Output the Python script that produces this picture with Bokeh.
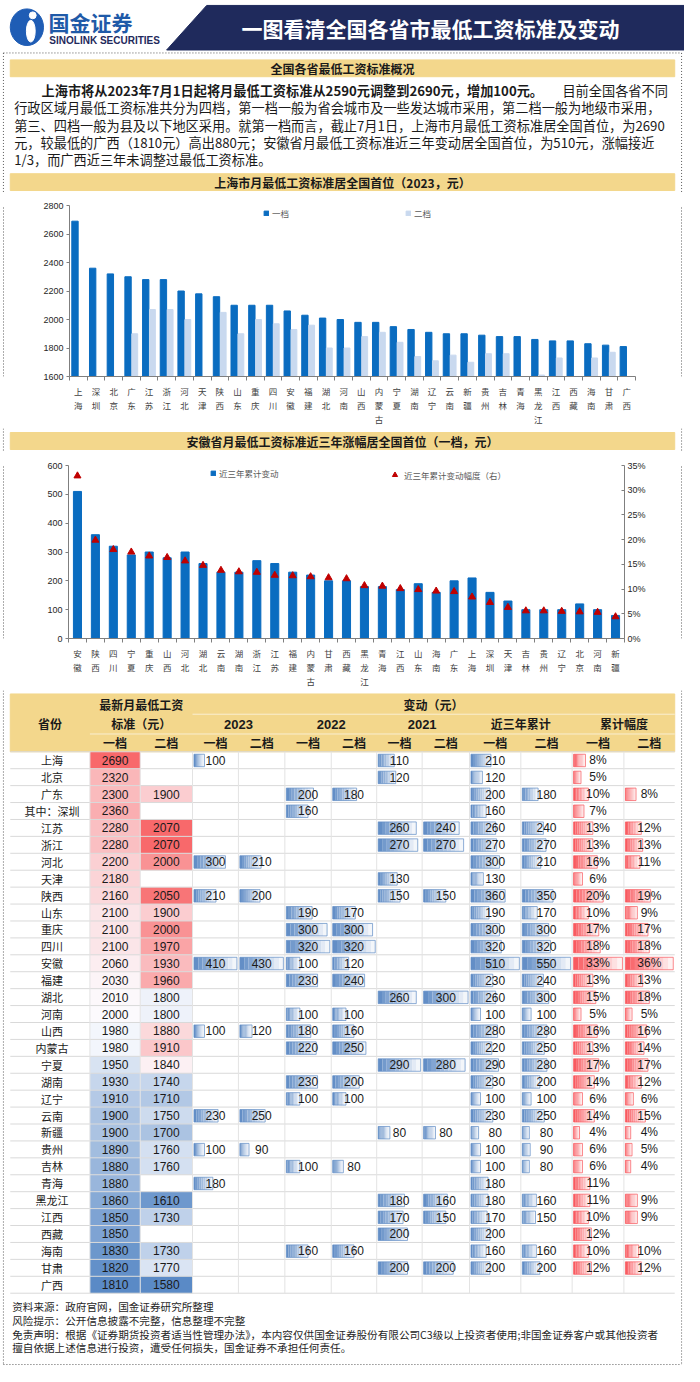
import statistics
from bokeh.plotting import figure
from bokeh.layouts import column, row
from bokeh.models import (Range1d, LinearAxis, FixedTicker, Legend, LegendItem,
                          NumeralTickFormatter, ColumnDataSource)
from bokeh.transform import dodge
from bokeh.core.properties import value
from bokeh.embed import file_html
from bokeh.resources import INLINE

CJK = "Noto Sans CJK SC"
NUM = "Liberation Sans"
NAVY = "#1f2a5c"
YELLOW = "#f3d78c"
DOT = "#5a5a5a"
DARK = "#0a6cc0"
LIGHT = "#c9d9ef"
TRI = "#c00000"

# ================= data =================
TITLE = "一图看清全国各省市最低工资标准及变动"
SEC1 = "全国各省最低工资标准概况"
SEC2 = "上海市月最低工资标准居全国首位（2023，元）"
SEC3 = "安徽省月最低工资标准近三年涨幅居全国首位（一档，元）"
P1_bold = "上海市将从2023年7月1日起将月最低工资标准从2590元调整到2690元，增加100元。"
P1_rest = "目前全国各省不同"
P_lines = ["行政区域月最低工资标准共分为四档，第一档一般为省会城市及一些发达城市采用，第二档一般为地级市采用，",
           "第三、四档一般为县及以下地区采用。就第一档而言，截止7月1日，上海市月最低工资标准居全国首位，为2690",
           "元，较最低的广西（1810元）高出880元；安徽省月最低工资标准近三年变动居全国首位，为510元，涨幅接近",
           "1/3，而广西近三年未调整过最低工资标准。"]
FOOT = ["资料来源：政府官网，国金证券研究所整理",
        "风险提示：公开信息披露不完整，信息整理不完整",
        "免责声明：根据《证券期货投资者适当性管理办法》，本内容仅供国金证券股份有限公司C3级以上投资者使用;非国金证券客户或其他投资者",
        "擅自依据上述信息进行投资，遭受任何损失，国金证券不承担任何责任。"]

# chart 1
c1_cats = ["上海", "深圳", "北京", "广东", "江苏", "浙江", "河北", "天津", "陕西", "山东", "重庆", "四川",
           "安徽", "福建", "湖北", "河南", "山西", "内蒙古", "宁夏", "湖南", "辽宁", "云南", "新疆", "贵州",
           "吉林", "青海", "黑龙江", "江西", "西藏", "海南", "甘肃", "广西"]
c1_t1 = [2690, 2360, 2320, 2300, 2280, 2280, 2200, 2180, 2160, 2100, 2100, 2100, 2060, 2030, 2010, 2000,
         1980, 1980, 1950, 1930, 1910, 1900, 1900, 1890, 1880, 1880, 1860, 1850, 1850, 1830, 1820, 1810]
c1_t2 = [None, None, None, 1900, 2070, 2070, 2000, None, 2050, 1900, 2000, 1970, 1930, 1960, 1800, 1800,
         1880, 1910, 1840, 1740, 1710, 1750, 1700, 1760, 1760, None, 1610, 1730, None, 1730, 1770, 1580]
c1_yticks = [1600, 1800, 2000, 2200, 2400, 2600, 2800]

# chart 2
c2_cats = ["安徽", "陕西", "四川", "宁夏", "重庆", "山西", "河北", "湖北", "云南", "湖南", "浙江", "江苏",
           "福建", "内蒙古", "甘肃", "西藏", "黑龙江", "青海", "江西", "山东", "海南", "广东", "上海", "深圳",
           "天津", "吉林", "贵州", "辽宁", "北京", "河南", "新疆"]
c2_val = [510, 360, 320, 290, 300, 280, 300, 260, 230, 230, 270, 260, 230, 220, 200, 200, 180, 180, 170,
          190, 160, 200, 210, 160, 130, 100, 100, 100, 120, 100, 80]
c2_pct = [0.329, 0.199, 0.180, 0.175, 0.167, 0.164, 0.157, 0.148, 0.138, 0.135, 0.134, 0.128, 0.127, 0.125,
          0.123, 0.121, 0.107, 0.106, 0.101, 0.099, 0.096, 0.095, 0.084, 0.073, 0.063, 0.056, 0.056, 0.055,
          0.054, 0.053, 0.044]
c2_yticks = [0, 100, 200, 300, 400, 500, 600]
c2_pticks = [0, 0.05, 0.10, 0.15, 0.20, 0.25, 0.30, 0.35]

# table
t_rows = ["上海", "北京", "广东", "其中：深圳", "江苏", "浙江", "河北", "天津", "陕西", "山东", "重庆", "四川",
          "安徽", "福建", "湖北", "河南", "山西", "内蒙古", "宁夏", "湖南", "辽宁", "云南", "新疆", "贵州",
          "吉林", "青海", "黑龙江", "江西", "西藏", "海南", "甘肃", "广西"]
t_std1 = [2690, 2320, 2300, 2360, 2280, 2280, 2200, 2180, 2160, 2100, 2100, 2100, 2060, 2030, 2010, 2000,
          1980, 1980, 1950, 1930, 1910, 1900, 1900, 1890, 1880, 1880, 1860, 1850, 1850, 1830, 1820, 1810]
t_std2 = [None, None, 1900, None, 2070, 2070, 2000, None, 2050, 1900, 2000, 1970, 1930, 1960, 1800, 1800,
          1880, 1910, 1840, 1740, 1710, 1750, 1700, 1760, 1760, None, 1610, 1730, None, 1730, 1770, 1580]
N_ = None
t_23_1 = [100, N_, N_, N_, N_, N_, 300, N_, 210, N_, N_, N_, 410, N_, N_, N_,
          100, N_, N_, N_, N_, 230, N_, 100, N_, 180, N_, N_, N_, N_, N_, N_]
t_23_2 = [N_, N_, N_, N_, N_, N_, 210, N_, 200, N_, N_, N_, 430, N_, N_, N_,
          120, N_, N_, N_, N_, 250, N_, 90, N_, N_, N_, N_, N_, N_, N_, N_]
t_22_1 = [N_, N_, 200, 160, N_, N_, N_, N_, N_, 190, 300, 320, 100, 230, N_, 100,
          180, 220, N_, 230, 100, N_, N_, N_, 100, N_, N_, N_, N_, 160, N_, N_]
t_22_2 = [N_, N_, 180, N_, N_, N_, N_, N_, N_, 170, 300, 320, 120, 240, N_, 100,
          160, 250, N_, 200, 100, N_, N_, N_, 80, N_, N_, N_, N_, 160, N_, N_]
t_21_1 = [110, 120, N_, N_, 260, 270, N_, 130, 150, N_, N_, N_, N_, N_, 260, N_,
          N_, N_, 290, N_, N_, N_, 80, N_, N_, N_, 180, 170, 200, N_, 200, N_]
t_21_2 = [N_, N_, N_, N_, 240, 270, N_, N_, 150, N_, N_, N_, N_, N_, 300, N_,
          N_, N_, 280, N_, N_, N_, 80, N_, N_, N_, 160, 150, N_, N_, 200, N_]
t_cum1 = [210, 120, 200, 160, 260, 270, 300, 130, 360, 190, 300, 320, 510, 230, 260, 100,
          280, 220, 290, 230, 100, 230, 80, 100, 100, 180, 180, 170, 200, 160, 200, N_]
t_cum2 = [N_, N_, 180, N_, 240, 270, 210, N_, 350, 170, 300, 320, 550, 240, 300, 100,
          280, 250, 280, 200, 100, 250, 80, 90, 80, N_, 160, 150, N_, 160, 200, N_]
t_pct1 = [8, 5, 10, 7, 13, 13, 16, 6, 20, 10, 17, 18, 33, 13, 15, 5,
          16, 13, 17, 14, 6, 14, 4, 6, 6, 11, 11, 10, 12, 10, 12, N_]
t_pct2 = [N_, N_, 8, N_, 12, 13, 11, N_, 19, 9, 17, 18, 36, 13, 18, 5,
          16, 14, 17, 12, 6, 15, 4, 5, 4, N_, 9, 9, N_, 10, 12, N_]


# ================= helpers =================
def blank(w, h, xr, yr):
    p = figure(width=w, height=h, x_range=Range1d(*xr), y_range=Range1d(*yr),
               x_axis_type=None, y_axis_type=None, output_backend="svg",
               toolbar_location=None, min_border=0)
    p.outline_line_color = None
    p.background_fill_color = "white"
    p.border_fill_color = "white"
    return p


def txt(p, x, y, s, size, font=CJK, color="#1a1a1a", align="center", bold=False):
    p.text(x=[x], y=[y], text=[s], text_font=value(font), text_font_size=f"{size}px",
           text_color=color, text_align=align, text_baseline="middle",
           text_font_style="bold" if bold else "normal")


def dotted_v(p, y0, y1):
    p.segment(x0=[3, 697], y0=[y0, y0], x1=[3, 697], y1=[y1, y1],
              line_color=DOT, line_dash="1 2", line_width=1)


def strip(xr, x, h):
    p = blank(10, h, xr, (0, 1))
    p.segment(x0=[x], y0=[0], x1=[x], y1=[1], line_color=DOT, line_dash="1 2", line_width=1)
    return p


def hexc(c):
    return "#%02x%02x%02x" % tuple(int(round(v)) for v in c)


def lerp(c1, c2, t):
    t = max(0.0, min(1.0, t))
    return tuple(a + (b - a) * t for a, b in zip(c1, c2))


# ================= top block =================
top = blank(684, 193, (0, 700), (195, 0))
top.patch([211, 700, 700, 170], [5, 5, 50, 50], color=NAVY)
top.ellipse(x=[27], y=[27], width=[34], height=[37], color="#1f5db5")
top.ellipse(x=[31], y=[31], width=[9], height=[22], color="white")
top.ellipse(x=[33], y=[15], width=[7], height=[7], color="white")
txt(top, 49, 22, "国金证券", 21, color="#1f5aa8", align="left", bold=True)
txt(top, 50, 40.5, "SINOLINK SECURITIES", 10, font=NUM, color=NAVY, align="left", bold=True)
txt(top, 440, 28, TITLE, 21, color="white", bold=True)
top.segment(x0=[3], y0=[53], x1=[697], y1=[53], line_color=DOT, line_dash="1 2", line_width=1)
dotted_v(top, 53, 195)
top.quad(left=[10], right=[690], top=[60], bottom=[77], color=YELLOW)
txt(top, 350, 68.5, SEC1, 12, bold=True)
txt(top, 42, 91, P1_bold, 13.2, bold=True, align="left")
txt(top, 683, 91, P1_rest, 13.2, align="right")
for k, ln in enumerate(P_lines):
    txt(top, 14, 108.5 + 17.5 * k, ln, 13.2, align="left")
top.quad(left=[10], right=[690], top=[175], bottom=[192], color=YELLOW)
txt(top, 350, 183.5, SEC2, 12, bold=True)


# ================= chart helpers =================
def style_x(ax, labels):
    n = len(labels)
    ax.ticker = FixedTicker(ticks=list(range(n)), minor_ticks=[i - 0.5 for i in range(n + 1)])
    ax.major_label_overrides = {i: "\n".join(c) for i, c in enumerate(labels)}
    ax.major_tick_out = 0
    ax.major_tick_in = 0
    ax.major_tick_line_color = None
    ax.minor_tick_in = 0
    ax.minor_tick_out = 4
    ax.minor_tick_line_color = "#7f7f7f"
    ax.axis_line_color = "#7f7f7f"
    ax.major_label_text_font = CJK
    ax.major_label_text_font_size = "8.5px"
    ax.major_label_text_color = "#404040"
    ax.major_label_standoff = 4


def style_y(ax, ticks):
    ax.ticker = FixedTicker(ticks=ticks)
    ax.major_tick_in = 0
    ax.major_tick_out = 3
    ax.minor_tick_line_color = None
    ax.axis_line_color = "#7f7f7f"
    ax.major_tick_line_color = "#7f7f7f"
    ax.major_label_text_font = NUM
    ax.major_label_text_font_size = "9px"
    ax.major_label_text_color = "#262626"
    ax.major_label_standoff = 3


def mk_legend(item_label, rend, loc, gw, gh):
    lg = Legend(items=[LegendItem(label=item_label, renderers=[rend])], location=loc,
                orientation="horizontal", padding=0, margin=0, spacing=0,
                glyph_width=gw, glyph_height=gh, label_standoff=3, label_height=10,
                label_text_font=CJK, label_text_font_size="8.5px", label_text_color="#595959",
                border_line_color=None, background_fill_alpha=0)
    return lg


# ================= chart 1 =================
nan = float("nan")
src1 = ColumnDataSource(dict(x=list(range(len(c1_cats))), t1=c1_t1,
                             t2=[nan if v is None else v for v in c1_t2]))
p1 = figure(width=664, height=235, x_range=Range1d(-0.5, len(c1_cats) - 0.5),
            y_range=Range1d(c1_yticks[0], c1_yticks[-1]), output_backend="svg",
            toolbar_location=None, min_border_left=59, min_border_right=39,
            min_border_top=12, min_border_bottom=41)
p1.xgrid.visible = False
p1.ygrid.visible = False
p1.outline_line_color = None
r11 = p1.vbar(x=dodge("x", -0.19), top="t1", bottom=c1_yticks[0], width=0.36, color=DARK, source=src1)
r12 = p1.vbar(x=dodge("x", 0.19), top="t2", bottom=c1_yticks[0], width=0.33, color=LIGHT, source=src1)
style_x(p1.xaxis[0], c1_cats)
style_y(p1.yaxis[0], c1_yticks)
p1.add_layout(mk_legend("一档", r11, (194, 157), 6, 6))
p1.add_layout(mk_legend("二档", r12, (336, 157), 6, 6))

# ================= band 3 =================
band3 = blank(684, 24, (0, 700), (457, 433))
dotted_v(band3, 433, 457)
band3.quad(left=[10], right=[690], top=[437], bottom=[454], color=YELLOW)
txt(band3, 350, 445.5, SEC3, 12, bold=True)

# ================= chart 2 =================
src2 = ColumnDataSource(dict(x=list(range(len(c2_cats))), v=c2_val, p=c2_pct))
p2 = figure(width=664, height=238, x_range=Range1d(-0.5, len(c2_cats) - 0.5),
            y_range=Range1d(c2_yticks[0], c2_yticks[-1]), output_backend="svg",
            toolbar_location=None, min_border_left=58, min_border_right=50,
            min_border_top=13, min_border_bottom=43)
p2.extra_y_ranges = {"pct": Range1d(c2_pticks[0], c2_pticks[-1])}
p2.xgrid.visible = False
p2.ygrid.visible = False
p2.outline_line_color = None
r21 = p2.vbar(x="x", top="v", bottom=0, width=0.45, color=DARK, source=src2)
r22 = p2.scatter(x="x", y="p", marker="triangle", size=7, color=TRI, y_range_name="pct", source=src2)
style_x(p2.xaxis[0], c2_cats)
style_y(p2.yaxis[0], c2_yticks)
ax_r = LinearAxis(y_range_name="pct", formatter=NumeralTickFormatter(format="0%"))
style_y(ax_r, c2_pticks)
ax_r.major_tick_in = 3
ax_r.major_tick_out = 0
p2.add_layout(ax_r, "right")
p2.add_layout(mk_legend("近三年累计变动", r21, (142, 159), 6, 6))
p2.add_layout(mk_legend("近三年累计变动幅度（右）", r22, (320, 157), 13, 13))

# ================= table =================
tb = blank(684, 676, (0, 700), (1382, 698))
B = [10, 91.5, 143, 196.5, 243.5, 291, 338.5, 385, 431.5, 480, 532.5, 585, 638, 690]
Y0 = 760.0
RH = 17.12
NR = len(t_rows)
Y1 = Y0 + NR * RH
mid = lambda j: (B[j] + B[j + 1]) / 2
rc = lambda i: Y0 + (i + 0.5) * RH

dotted_v(tb, 698, 1380)
tb.segment(x0=[3], y0=[1380], x1=[697], y1=[1380], line_color=DOT, line_dash="1 2", line_width=1)

# header
tb.quad(left=[B[0]], right=[B[-1]], top=[701.5], bottom=[Y0], color=YELLOW)
tb.segment(x0=[B[3], B[1]], y0=[722, 742], x1=[B[-1], B[-1]], y1=[722, 742],
           line_color="white", line_alpha=0.6, line_width=1)
txt(tb, mid(0), 731, "省份", 12, bold=True)
txt(tb, (B[1] + B[3]) / 2, 712.5, "最新月最低工资", 12, bold=True)
txt(tb, (B[1] + B[3]) / 2, 731.5, "标准（元）", 12, bold=True)
txt(tb, (B[3] + B[-1]) / 2, 712.5, "变动（元）", 12, bold=True)
for j, lab in [(3, "2023"), (5, "2022"), (7, "2021")]:
    txt(tb, B[j + 1], 732, lab, 13, font=NUM, bold=True)
txt(tb, B[10], 731.5, "近三年累计", 12, bold=True)
txt(tb, B[12], 731.5, "累计幅度", 12, bold=True)
for j in range(1, 13):
    txt(tb, mid(j), 751, "一档" if j % 2 == 1 else "二档", 12, bold=True)

# colour-scale cells
RED3 = (248, 105, 107)
WHITE3 = (252, 252, 255)
BLUE3 = (90, 138, 198)


def color_scale_col(j, vals):
    vs = [v for v in vals if v is not None]
    lo, hi, md = min(vs), max(vs), statistics.median(vs)
    L, R, T, Bt, C = [], [], [], [], []
    for i, v in enumerate(vals):
        if v is None:
            continue
        if v >= md:
            c = lerp(WHITE3, RED3, (v - md) / (hi - md))
        else:
            c = lerp(WHITE3, BLUE3, (md - v) / (md - lo))
        L.append(B[j]); R.append(B[j + 1]); T.append(Y0 + i * RH); Bt.append(Y0 + (i + 1) * RH)
        C.append(hexc(c))
    tb.quad(left=L, right=R, top=T, bottom=Bt, fill_color=C, line_color=None)


color_scale_col(1, t_std1)
color_scale_col(2, t_std2)

BAR_BLUE = (99, 142, 198)
BAR_RED = (248, 90, 96)
NS = 10


def data_bars(j, vals, base):
    vs = [v for v in vals if v is not None]
    vmax = max(vs)
    w = B[j + 1] - B[j] - 3
    L, R, T, Bt, C = [], [], [], [], []
    oL, oR, oT, oB = [], [], [], []
    for i, v in enumerate(vals):
        if v is None:
            continue
        t0 = Y0 + i * RH + 2.5
        b0 = Y0 + (i + 1) * RH - 2
        left = B[j] + 1.5
        ln = w * v / vmax
        for k in range(NS):
            L.append(left + ln * k / NS); R.append(left + ln * (k + 1) / NS)
            T.append(t0); Bt.append(b0)
            C.append(hexc(lerp(base, (255, 255, 255), 0.92 * k / (NS - 1))))
        oL.append(left); oR.append(left + ln); oT.append(t0); oB.append(b0)
    tb.quad(left=L, right=R, top=T, bottom=Bt, fill_color=C, line_color=None)
    tb.quad(left=oL, right=oR, top=oT, bottom=oB, fill_color=None, line_color=hexc(base),
            line_width=0.8, line_alpha=0.9)


blue_cols = [(3, t_23_1), (4, t_23_2), (5, t_22_1), (6, t_22_2), (7, t_21_1), (8, t_21_2),
             (9, t_cum1), (10, t_cum2)]
for j, vals in blue_cols:
    data_bars(j, vals, BAR_BLUE)
data_bars(11, t_pct1, BAR_RED)
data_bars(12, t_pct2, BAR_RED)

# grid lines
hy = [Y0 + i * RH for i in range(NR + 1)]
tb.segment(x0=[B[0]] * len(hy), y0=hy, x1=[B[-1]] * len(hy), y1=hy, line_color="#d9d9d9", line_width=1)
vx = B[1:-1]
tb.segment(x0=vx, y0=[Y0] * len(vx), x1=vx, y1=[Y1] * len(vx), line_color="#e3e3e3", line_width=1)

# texts
tb.text(x=[mid(0) + 2] * NR, y=[rc(i) for i in range(NR)], text=t_rows, text_font=value(CJK),
        text_font_size="11px", text_color="#1a1a1a", text_align="center", text_baseline="middle")


def col_text(j, vals, suffix=""):
    xs, ys, ts = [], [], []
    for i, v in enumerate(vals):
        if v is None:
            continue
        xs.append(mid(j)); ys.append(rc(i)); ts.append(f"{v}{suffix}")
    tb.text(x=xs, y=ys, text=ts, text_font=value(NUM), text_font_size="12px",
            text_color="#1a1a1a", text_align="center", text_baseline="middle")


col_text(1, t_std1)
col_text(2, t_std2)
for j, vals in blue_cols:
    col_text(j, vals)
col_text(11, t_pct1, "%")
col_text(12, t_pct2, "%")

# footer
for k, ln in enumerate(FOOT):
    txt(tb, 12, 1321.7 + 13.8 * k, ln, 10.6, color="#262626", align="left")

# ================= layout =================
layout = column(
    top,
    row(strip((0, 10), 3, 235), p1, strip((690, 700), 697, 235)),
    band3,
    row(strip((0, 10), 3, 238), p2, strip((690, 700), 697, 238)),
    tb,
)
open("out.html", "w").write(file_html(layout, INLINE))
